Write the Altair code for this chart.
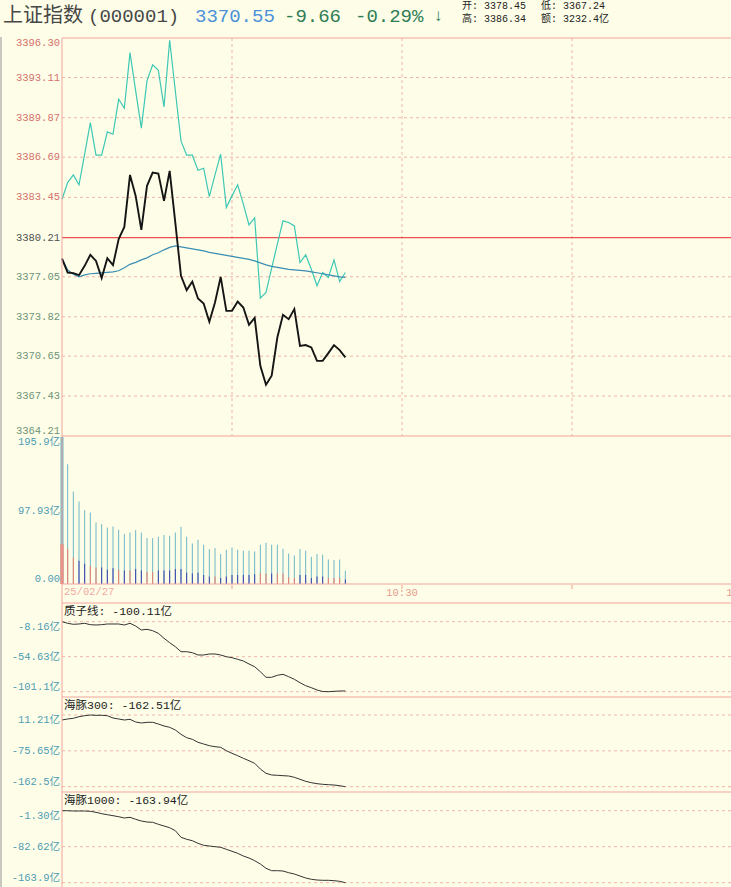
import altair as alt
import pandas as pd

# ---------------- data ----------------
minute = list(range(51))  # minutes after 09:30

price = [3378.52, 3377.39, 3377.34, 3377.18, 3377.93, 3378.82, 3378.33, 3376.94, 3378.55, 3377.99,
         3380.08, 3381.07, 3385.26, 3383.57, 3380.83, 3384.38, 3385.45, 3385.37, 3383.17, 3385.59,
         3381.40, 3377.12, 3375.97, 3376.66, 3375.30, 3374.89, 3373.42, 3374.97, 3377.04, 3374.30,
         3374.30, 3375.05, 3374.57, 3373.18, 3373.74, 3369.87, 3368.34, 3369.07, 3372.15, 3373.98,
         3373.63, 3374.44, 3371.48, 3371.54, 3371.35, 3370.27, 3370.27, 3370.89, 3371.54, 3371.14,
         3370.55]

lead = [3383.30, 3384.64, 3385.26, 3384.46, 3386.93, 3389.48, 3386.85, 3386.85, 3388.73, 3388.54,
        3391.36, 3390.64, 3395.12, 3392.03, 3389.03, 3392.84, 3394.13, 3393.70, 3390.74, 3396.12,
        3392.03, 3388.00, 3386.85, 3386.85, 3385.64, 3385.80, 3383.51, 3385.26, 3386.93, 3382.63,
        3383.57, 3384.46, 3382.90, 3381.23, 3381.80, 3375.33, 3375.78, 3377.74, 3379.68, 3381.56,
        3381.42, 3381.15, 3378.20, 3378.82, 3377.66, 3376.32, 3377.39, 3376.99, 3378.41, 3376.66,
        3377.39]

avg = [3378.52, 3377.60, 3377.25, 3377.04, 3377.20, 3377.29, 3377.33, 3377.37, 3377.41, 3377.45,
       3377.53, 3377.77, 3378.05, 3378.21, 3378.41, 3378.57, 3378.82, 3378.98, 3379.22, 3379.42,
       3379.54, 3379.46, 3379.38, 3379.30, 3379.22, 3379.14, 3379.02, 3378.94, 3378.86, 3378.78,
       3378.70, 3378.61, 3378.53, 3378.45, 3378.33, 3378.17, 3378.01, 3377.89, 3377.81, 3377.73,
       3377.65, 3377.61, 3377.57, 3377.53, 3377.45, 3377.37, 3377.29, 3377.20, 3377.12, 3377.04,
       3377.00]

volume = [195.9, 159.6, 123.2, 109.9, 98.4, 95.2, 81.9, 79.8, 75.3, 76.6,
          72.2, 66.5, 68.6, 71.8, 68.6, 61.2, 61.2, 62.9, 65.2, 64.2,
          68.6, 76.2, 62.9, 54.0, 58.9, 52.3, 46.5, 47.9, 39.9, 45.6,
          48.7, 45.6, 44.3, 44.3, 43.4, 52.3, 54.9, 52.3, 52.3, 46.9,
          40.7, 38.0, 46.5, 44.3, 36.3, 39.9, 39.0, 32.7, 31.9, 32.7,
          17.7]

vol_part = [53, 47, 35, 31, 27, 24, 22, 22, 19, 21,
            19, 18, 18, 20, 18, 16, 16, 18, 18, 18,
            20, 20, 15, 14, 15, 12, 10, 10, 8, 10,
            12, 12, 12, 12, 13, 14, 14, 14, 14, 14,
            9, 8, 12, 12, 8, 10, 10, 8, 8, 8,
            6]
vol_side = ["up", "up", "up", "dn", "dn", "up", "up", "dn", "dn", "dn",
            "up", "dn", "up", "dn", "dn", "up", "up", "dn", "dn", "dn",
            "dn", "dn", "dn", "dn", "dn", "dn", "dn", "up", "dn", "dn",
            "dn", "dn", "dn", "dn", "dn", "up", "up", "dn", "up", "up",
            "up", "up", "dn", "dn", "dn", "dn", "dn", "up", "up", "up",
            "dn"]

zz = [-8.16, -10.28, -11.61, -11.21, -10.28, -12.14, -12.54, -12.14, -11.21, -11.21,
      -11.21, -12.54, -10.28, -13.87, -19.18, -18.25, -20.11, -23.56, -30.20, -36.04,
      -41.35, -47.99, -47.99, -49.32, -52.37, -52.37, -51.04, -51.04, -52.37, -54.63,
      -55.96, -58.08, -60.34, -64.32, -67.90, -74.55, -81.98, -81.98, -79.32, -78.00,
      -81.18, -84.64, -89.15, -93.13, -95.79, -98.84, -100.83, -101.10, -100.57, -100.17,
      -100.11]

h300 = [-0.90, 1.52, 3.21, 7.09, 9.51, 11.21, 10.48, 10.48, 9.51, 3.94,
        1.52, -0.90, 0.79, -5.75, -8.17, -6.48, -6.48, -10.60, -15.44, -18.59,
        -25.13, -35.55, -43.79, -47.66, -54.93, -59.05, -63.17, -65.59, -67.05, -75.28,
        -81.58, -87.40, -93.70, -99.51, -105.81, -119.62, -130.04, -134.16, -134.88, -135.85,
        -136.58, -139.73, -144.57, -149.42, -152.81, -155.24, -156.69, -157.66, -158.39, -160.08,
        -162.51]

h1000 = [-1.30, -1.30, -1.98, -1.98, -1.98, -2.66, -4.91, -8.08, -10.34, -12.59,
         -14.85, -17.79, -16.21, -20.73, -24.57, -26.83, -27.50, -32.02, -35.86, -39.70,
         -46.48, -61.39, -65.91, -69.07, -74.94, -79.46, -81.04, -82.62, -83.98, -88.50,
         -93.02, -97.53, -103.63, -108.15, -114.25, -121.70, -131.41, -136.83, -136.83, -137.51,
         -141.35, -144.29, -148.81, -153.32, -156.26, -157.84, -158.52, -158.52, -159.42, -160.78,
         -163.94]

pre_close = 3380.21
price_ticks = [3396.30, 3393.11, 3389.87, 3386.69, 3383.45, 3380.21, 3377.05, 3373.82, 3370.65, 3367.43, 3364.21]
price_tick_labels = ["3396.30", "3393.11", "3389.87", "3386.69", "3383.45", "3380.21",
                     "3377.05", "3373.82", "3370.65", "3367.43", "3364.21"]
vol_ticks = [195.9, 97.93, 0.0]
vol_tick_labels = ["195.9亿", "97.93亿", "0.00"]
zz_ticks = [-8.16, -54.63, -101.1]
zz_tick_labels = ["-8.16亿", "-54.63亿", "-101.1亿"]
h300_ticks = [11.21, -75.65, -162.51]
h300_tick_labels = ["11.21亿", "-75.65亿", "-162.5亿"]
h1000_ticks = [-1.30, -82.62, -163.94]
h1000_tick_labels = ["-1.30亿", "-82.62亿", "-163.9亿"]
grid_minutes = [30, 60, 90]
time_label_minutes = [60, 120]
time_labels = ["10:30", "11:30"]

# ---------------- styles ----------------
BG = "#fefee8"
BORDER = "#f2a49c"
GRID = "#eeb4aa"
RED = "#ec5050"
MONO = "Liberation Mono, Noto Sans CJK SC"
CJK = "Noto Sans CJK SC"
LABEL_BLUE = "#4f9bb5"

df = pd.DataFrame({"m": minute, "price": price, "lead": lead, "avg": avg,
                   "vol": volume, "part": vol_part, "side": vol_side,
                   "zz": zz, "h300": h300, "h1000": h1000})

X = alt.Scale(domain=[0, 120], range=[62, 742], zero=False, nice=False)


def yscale(lo, hi, pix_lo, pix_hi):
    return alt.Scale(domain=[lo, hi], range=[pix_lo, pix_hi], zero=False, nice=False)


Yp = yscale(3364.21, 3396.30, 436, 38)
Yv = yscale(0, 195.9, 584, 437)
Yz = yscale(-101.1, -8.16, 691.7, 621.7)
Y3 = yscale(-162.51, 11.21, 786.7, 715)
Y4 = yscale(-163.94, -1.30, 882.7, 810.7)

base = alt.Chart(df)


def hgrid(values, scale, dashed=True, color=GRID, width=1):
    d = pd.DataFrame({"v": values})
    kw = {"strokeDash": [3, 3]} if dashed else {}
    return alt.Chart(d).mark_rule(color=color, strokeWidth=width, **kw).encode(
        y=alt.Y("v:Q", scale=scale, axis=None),
        x=alt.XDatum(0, scale=X, axis=None),
        x2=alt.X2Datum(120),
    )


def axis_labels(values, texts, scale, color_expr, size=10.5):
    d = pd.DataFrame({"v": values, "t": texts})
    d["edge"] = ["top"] + ["middle"] * (len(values) - 2) + ["bottom"]
    out = []
    for e in ["top", "middle", "bottom"]:
        out.append(
            alt.Chart(d).transform_filter(alt.datum.edge == e)
            .transform_calculate(c=color_expr)
            .mark_text(align="right", baseline=e, font=MONO, fontSize=size)
            .encode(x=alt.value(60), y=alt.Y("v:Q", scale=scale, axis=None),
                    text="t:N", color=alt.Color("c:N", scale=None))
        )
    return out


# ---------------- price panel ----------------
inner_ticks = [v for v in price_ticks[1:-1] if v != pre_close]
price_layers = [
    hgrid(inner_ticks, Yp),
    alt.Chart(pd.DataFrame({"m": grid_minutes})).mark_rule(color=GRID, strokeDash=[3, 3]).encode(
        x=alt.X("m:Q", scale=X, axis=None),
        y=alt.YDatum(price_ticks[0], scale=Yp, axis=None),
        y2=alt.Y2Datum(price_ticks[-1]),
    ),
    hgrid([price_ticks[0], price_ticks[-1]], Yp, dashed=False, color=BORDER),
    hgrid([pre_close], Yp, dashed=False, color=RED, width=1.2),
    base.mark_line(color="#3ec7b3", strokeWidth=1.2).encode(
        x=alt.X("m:Q", scale=X, axis=None), y=alt.Y("lead:Q", scale=Yp, axis=None)),
    base.mark_line(color="#3a8db3", strokeWidth=1.2).encode(
        x=alt.X("m:Q", scale=X, axis=None), y=alt.Y("avg:Q", scale=Yp, axis=None)),
    base.mark_line(color="#151515", strokeWidth=1.9).encode(
        x=alt.X("m:Q", scale=X, axis=None), y=alt.Y("price:Q", scale=Yp, axis=None)),
] + axis_labels(price_ticks, price_tick_labels, Yp,
                f"datum.v > {pre_close} + 0.001 ? '#d4706c' : (datum.v < {pre_close} - 0.001 ? '#6f9277' : '#505050')")
price_group = alt.layer(*price_layers)

# ---------------- volume panel ----------------
vol_layers = [
    base.mark_rule(color="#6cb7c6").encode(
        x=alt.X("m:Q", scale=X, axis=None),
        y=alt.Y("vol:Q", scale=Yv, axis=None),
        y2=alt.Y2Datum(0),
        strokeWidth=alt.condition(alt.datum.m == 0, alt.value(3), alt.value(1)),
    ),
    base.mark_rule().encode(
        x=alt.X("m:Q", scale=X, axis=None),
        y=alt.Y("part:Q", scale=Yv, axis=None),
        y2=alt.Y2Datum(0),
        color=alt.condition(alt.datum.side == "up", alt.value("#ee7b6b"), alt.value("#3d3fb0")),
        strokeWidth=alt.condition(alt.datum.m == 0, alt.value(3), alt.value(1)),
    ),
    hgrid([0], Yv, dashed=False, color=BORDER),
] + axis_labels(vol_ticks, vol_tick_labels, Yv, f"'{LABEL_BLUE}'")
vol_group = alt.layer(*vol_layers)


# ---------------- indicator panels ----------------
def indicator(field, scale, ticks, labels):
    layers = [
        hgrid(ticks, scale),
        base.mark_line(color="#333333", strokeWidth=1).encode(
            x=alt.X("m:Q", scale=X, axis=None), y=alt.Y(f"{field}:Q", scale=scale, axis=None)),
    ] + axis_labels(ticks, labels, scale, f"'{LABEL_BLUE}'")
    return alt.layer(*layers)


zz_group = indicator("zz", Yz, zz_ticks, zz_tick_labels)
h300_group = indicator("h300", Y3, h300_ticks, h300_tick_labels)
h1000_group = indicator("h1000", Y4, h1000_ticks, h1000_tick_labels)

# ---------------- frame, time axis, titles ----------------
sep_df = pd.DataFrame({"y": [603, 697, 792]})
frame = [
    alt.Chart(sep_df).mark_rule(color=BORDER).encode(
        y=alt.Y("y:Q", scale=None, axis=None), x=alt.value(62), x2=alt.value(731)),
    alt.Chart(pd.DataFrame({"k": [0]})).mark_rule(color=BORDER).encode(
        x=alt.XDatum(0, scale=X, axis=None), y=alt.value(38), y2=alt.value(887)),
    alt.Chart(pd.DataFrame({"k": [0]})).mark_rule(color="#c8c8c0", strokeWidth=2).encode(
        x=alt.value(1), y=alt.value(37), y2=alt.value(887)),
    alt.Chart(pd.DataFrame({"m": grid_minutes})).mark_rule(color="#e8a090").encode(
        x=alt.X("m:Q", scale=X, axis=None), y=alt.value(585), y2=alt.value(589)),
    alt.Chart(pd.DataFrame({"m": time_label_minutes, "t": time_labels})).mark_text(
        font=MONO, fontSize=10.5, color="#e69a8c", baseline="middle").encode(
        x=alt.X("m:Q", scale=X, axis=None), y=alt.value(593), text="t:N"),
    alt.Chart(pd.DataFrame({"t": ["25/02/27"]})).mark_text(
        font=MONO, fontSize=10.5, color="#f0a8a0", align="left", baseline="middle", dx=2).encode(
        x=alt.XDatum(0, scale=X, axis=None), y=alt.value(592), text="t:N"),
]

panel_titles = pd.DataFrame({
    "t": ["质子线:  -100.11亿", "海豚300:  -162.51亿", "海豚1000:  -163.94亿"],
    "y": [612, 706, 801],
})
frame.append(
    alt.Chart(panel_titles).mark_text(font=MONO, fontSize=11.5, color="#222222",
                                      align="left", baseline="middle").encode(
        x=alt.value(64), y=alt.Y("y:Q", scale=None, axis=None), text="t:N"))

header = pd.DataFrame({
    "t": ["上证指数", "(000001)", "3370.55", "-9.66", "-0.29%", "↓"],
    "x": [3, 88, 195, 284, 355, 433],
    "c": ["#474747", "#474747", "#4a90d9", "#2f7d55", "#2f7d55", "#2f7d55"],
    "f": [CJK, MONO, MONO, MONO, MONO, MONO],
    "s": [20, 19, 19, 19, 19, 17],
})
for i, row in header.iterrows():
    frame.append(
        alt.Chart(pd.DataFrame({"t": [row.t]})).mark_text(
            font=row.f, fontSize=int(row.s), color=row.c,
            align="left", baseline="middle").encode(
            x=alt.value(int(row.x)), y=alt.value(16), text="t:N"))

info = pd.DataFrame({
    "t": ["开: 3378.45", "低: 3367.24", "高: 3386.34", "额: 3232.4亿"],
    "x": [462, 541, 462, 541],
    "y": [6, 6, 19, 19],
})
frame.append(
    alt.Chart(info).mark_text(font=MONO, fontSize=10, color="#222222",
                              align="left", baseline="middle").encode(
        x=alt.X("x:Q", scale=None, axis=None), y=alt.Y("y:Q", scale=None, axis=None), text="t:N"))

chart = alt.layer(price_group, vol_group, zz_group, h300_group, h1000_group, *frame).resolve_scale(
    y="independent"
).properties(
    width=731, height=887, padding=0, background=BG,
    autosize=alt.AutoSizeParams(type="none"),
).configure_view(stroke=None)

chart.save("out.html", embed_options={"renderer": "svg", "actions": False})
